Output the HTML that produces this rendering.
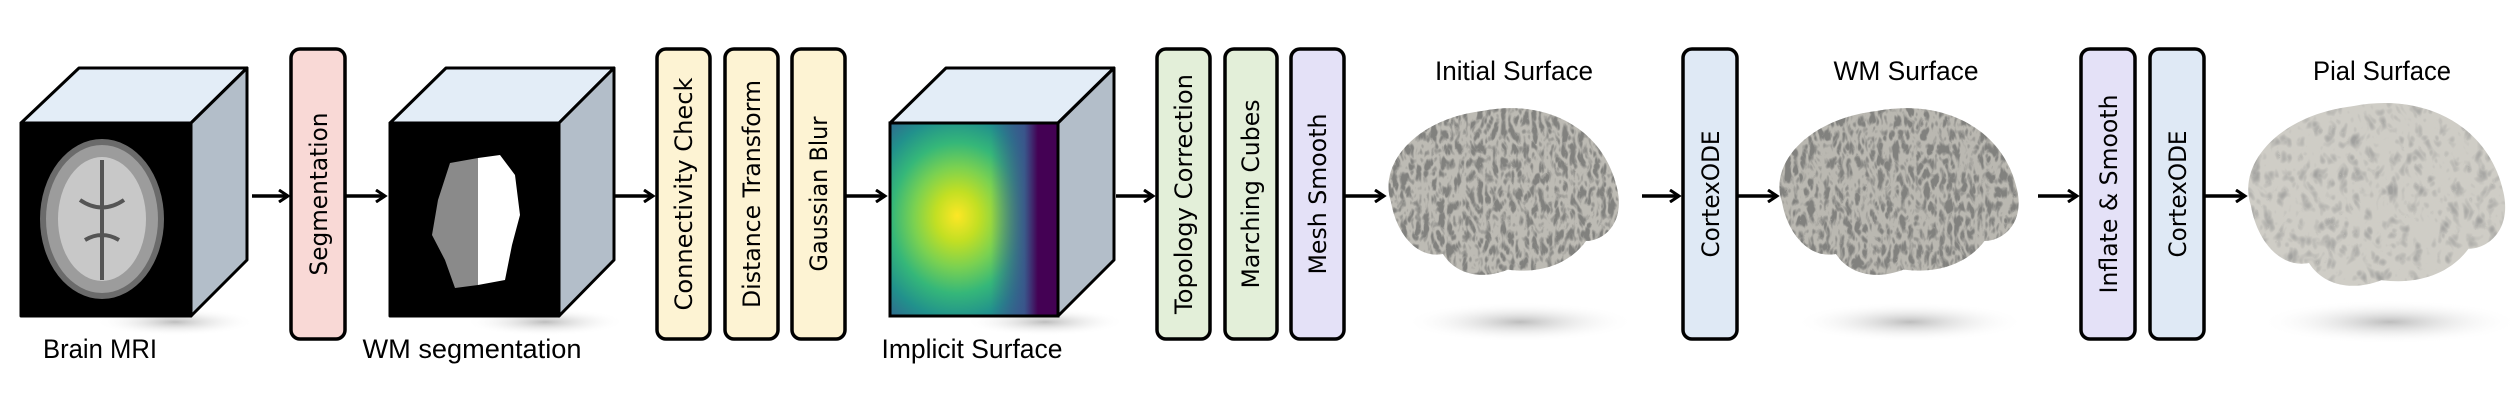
<!DOCTYPE html>
<html><head><meta charset="utf-8"><style>
html,body{margin:0;padding:0;background:#fff;}
svg{display:block;}
.lbl{font-family:"Liberation Sans Narrow","Liberation Sans",sans-serif;font-size:27px;fill:#000;}
.vt{font-family:"DejaVu Sans",sans-serif;font-size:24px;fill:#000;}
</style></head><body>
<svg width="2514" height="404" viewBox="0 0 2514 404" xmlns="http://www.w3.org/2000/svg">
<defs>
  <marker id="ah" markerWidth="14" markerHeight="14" refX="11" refY="7" orient="auto" markerUnits="userSpaceOnUse">
    <path d="M2,1 L11,7 L2,13" fill="none" stroke="#000" stroke-width="3"/>
  </marker>
  <radialGradient id="vir" cx="0.4" cy="0.5" r="0.65" fx="0.4" fy="0.48">
    <stop offset="0" stop-color="#fde725"/>
    <stop offset="0.2" stop-color="#c2df23"/>
    <stop offset="0.4" stop-color="#7ad151"/>
    <stop offset="0.6" stop-color="#35b779"/>
    <stop offset="0.8" stop-color="#21918c"/>
    <stop offset="1" stop-color="#31688e"/>
  </radialGradient>
  <linearGradient id="purp" x1="0" x2="1" y1="0" y2="0">
    <stop offset="0.6" stop-color="#3b528b" stop-opacity="0"/>
    <stop offset="0.8" stop-color="#3b528b" stop-opacity="0.9"/>
    <stop offset="0.88" stop-color="#440154"/>
    <stop offset="1" stop-color="#440154"/>
  </linearGradient>
  <radialGradient id="shad" cx="0.5" cy="0.5" r="0.5">
    <stop offset="0" stop-color="#bdbdbd"/>
    <stop offset="1" stop-color="#fff" stop-opacity="0"/>
  </radialGradient>
  <filter id="wr1" x="0" y="0" width="1" height="1">
    <feTurbulence type="turbulence" baseFrequency="0.13 0.07" numOctaves="2" seed="3"/>
    <feColorMatrix type="matrix" values="0 0 0 0 0.22 0 0 0 0 0.22 0 0 0 0 0.21 3.5 0 0 0 -0.55"/>
  </filter>
  <filter id="wr2" x="0" y="0" width="1" height="1">
    <feTurbulence type="turbulence" baseFrequency="0.08 0.06" numOctaves="2" seed="7"/>
    <feColorMatrix type="matrix" values="0 0 0 0 0.35 0 0 0 0 0.35 0 0 0 0 0.34 2.0 0 0 0 -0.45"/>
  </filter>
  <path id="brainShape" d="M10,40 C5,25 20,8 45,5 C70,0 92,12 97,35 C100,48 92,55 85,55 C80,62 70,68 55,66 C45,70 35,68 30,60 C20,62 12,52 10,40 Z"/>
  <clipPath id="cb1" clipPathUnits="userSpaceOnUse"><use href="#brainShape" transform="translate(1365,98) scale(2.6,2.6)"/></clipPath>
  <clipPath id="cb2" clipPathUnits="userSpaceOnUse"><use href="#brainShape" transform="translate(1755,98) scale(2.7,2.6)"/></clipPath>
  <clipPath id="cb3" clipPathUnits="userSpaceOnUse"><use href="#brainShape" transform="translate(2222,92) scale(2.9,2.85)"/></clipPath>
</defs>

<ellipse cx="175" cy="322" rx="80" ry="14" fill="url(#shad)"/>
<ellipse cx="545" cy="322" rx="80" ry="14" fill="url(#shad)"/>
<ellipse cx="1045" cy="322" rx="80" ry="14" fill="url(#shad)"/>
<ellipse cx="1520" cy="322" rx="115" ry="20" fill="url(#shad)"/>
<ellipse cx="1910" cy="322" rx="115" ry="20" fill="url(#shad)"/>
<ellipse cx="2390" cy="322" rx="130" ry="22" fill="url(#shad)"/>

<g stroke="#000" stroke-width="3" stroke-linejoin="round">
  <polygon points="21,123 79,68 247,68 191,123" fill="#e3edf7"/>
  <polygon points="191,123 247,68 247,260 191,316" fill="#b3bec9"/>
  <rect x="21" y="123" width="170" height="193" fill="#000"/>
</g>
<ellipse cx="102" cy="219" rx="62" ry="80" fill="#6b6b6b"/>
<ellipse cx="102" cy="219" rx="56" ry="74" fill="#9c9c9c"/>
<ellipse cx="102" cy="219" rx="44" ry="62" fill="#c8c8c8"/>
<path d="M102,160 L102,280 M80,200 Q102,215 124,200 M85,240 Q102,230 119,240" stroke="#555" stroke-width="4" fill="none"/>

<g stroke="#000" stroke-width="3" stroke-linejoin="round">
  <polygon points="390,123 446,68 614,68 559,123" fill="#e3edf7"/>
  <polygon points="559,123 614,68 614,260 559,316" fill="#b3bec9"/>
  <rect x="390" y="123" width="169" height="193" fill="#000"/>
</g>
<path d="M450,163 L478,158 L478,285 L455,288 L445,260 L432,235 L438,200 Z" fill="#8a8a8a"/>
<path d="M478,158 L500,155 L515,175 L520,215 L512,245 L505,280 L478,285 Z" fill="#fff"/>

<g stroke="#000" stroke-width="3" stroke-linejoin="round">
  <polygon points="890,123 946,68 1114,68 1058,123" fill="#e3edf7"/>
  <polygon points="1058,123 1114,68 1114,260 1058,316" fill="#b3bec9"/>
</g>
<rect x="890" y="123" width="168" height="193" fill="url(#vir)"/>
<rect x="890" y="123" width="168" height="193" fill="url(#purp)"/>
<rect x="890" y="123" width="168" height="193" fill="none" stroke="#000" stroke-width="3"/>

<g stroke="#000" stroke-width="3.5">
  <rect x="291" y="49" width="54" height="290" rx="9" fill="#f9d9d6"/>
  <rect x="657" y="49" width="53" height="290" rx="9" fill="#fdf3d3"/>
  <rect x="725" y="49" width="53" height="290" rx="9" fill="#fdf3d3"/>
  <rect x="792" y="49" width="53" height="290" rx="9" fill="#fdf3d3"/>
  <rect x="1157" y="49" width="53" height="290" rx="9" fill="#e3efd9"/>
  <rect x="1225" y="49" width="52" height="290" rx="9" fill="#e3efd9"/>
  <rect x="1291" y="49" width="53" height="290" rx="9" fill="#e4e1f7"/>
  <rect x="1683" y="49" width="54" height="290" rx="9" fill="#dfe9f5"/>
  <rect x="2081" y="49" width="54" height="290" rx="9" fill="#e4e1f7"/>
  <rect x="2150" y="49" width="54" height="290" rx="9" fill="#dfe9f5"/>
</g>
<g class="vt" text-anchor="middle">
  <text transform="translate(327,194) rotate(-90)" textLength="163" lengthAdjust="spacingAndGlyphs">Segmentation</text>
  <text transform="translate(692,194) rotate(-90)" textLength="233" lengthAdjust="spacingAndGlyphs">Connectivity Check</text>
  <text transform="translate(760,194) rotate(-90)" textLength="228" lengthAdjust="spacingAndGlyphs">Distance Transform</text>
  <text transform="translate(827,194) rotate(-90)" textLength="155" lengthAdjust="spacingAndGlyphs">Gaussian Blur</text>
  <text transform="translate(1192,194) rotate(-90)" textLength="240" lengthAdjust="spacingAndGlyphs">Topology Correction</text>
  <text transform="translate(1259,194) rotate(-90)" textLength="189" lengthAdjust="spacingAndGlyphs">Marching Cubes</text>
  <text transform="translate(1326,194) rotate(-90)" textLength="161" lengthAdjust="spacingAndGlyphs">Mesh Smooth</text>
  <text transform="translate(1719,194) rotate(-90)" textLength="127" lengthAdjust="spacingAndGlyphs">CortexODE</text>
  <text transform="translate(2117,194) rotate(-90)" textLength="199" lengthAdjust="spacingAndGlyphs">Inflate &amp; Smooth</text>
  <text transform="translate(2186,194) rotate(-90)" textLength="127" lengthAdjust="spacingAndGlyphs">CortexODE</text>
</g>

<g stroke="#000" stroke-width="3.5" marker-end="url(#ah)">
  <line x1="252" y1="196" x2="288" y2="196"/>
  <line x1="345" y1="196" x2="385" y2="196"/>
  <line x1="614" y1="196" x2="653" y2="196"/>
  <line x1="846" y1="196" x2="885" y2="196"/>
  <line x1="1116" y1="196" x2="1153" y2="196"/>
  <line x1="1345" y1="196" x2="1384" y2="196"/>
  <line x1="1642" y1="196" x2="1679" y2="196"/>
  <line x1="1737" y1="196" x2="1777" y2="196"/>
  <line x1="2038" y1="196" x2="2077" y2="196"/>
  <line x1="2204" y1="196" x2="2245" y2="196"/>
</g>

<g clip-path="url(#cb1)">
  <rect x="1360" y="90" width="290" height="200" fill="#bdbbb4"/>
  <rect x="1360" y="90" width="290" height="200" filter="url(#wr1)"/>
</g>
<g clip-path="url(#cb2)">
  <rect x="1750" y="90" width="300" height="200" fill="#bab8b1"/>
  <rect x="1750" y="90" width="300" height="200" filter="url(#wr1)"/>
</g>
<g clip-path="url(#cb3)">
  <rect x="2220" y="85" width="294" height="210" fill="#cfcdc6"/>
  <rect x="2220" y="85" width="294" height="210" filter="url(#wr2)"/>
</g>

<g class="lbl" text-anchor="middle">
  <text x="100" y="358" textLength="114" lengthAdjust="spacingAndGlyphs">Brain MRI</text>
  <text x="472" y="358" textLength="219" lengthAdjust="spacingAndGlyphs">WM segmentation</text>
  <text x="972" y="358" textLength="181" lengthAdjust="spacingAndGlyphs">Implicit Surface</text>
  <text x="1514" y="80" textLength="158" lengthAdjust="spacingAndGlyphs">Initial Surface</text>
  <text x="1906" y="80" textLength="145" lengthAdjust="spacingAndGlyphs">WM Surface</text>
  <text x="2382" y="80" textLength="138" lengthAdjust="spacingAndGlyphs">Pial Surface</text>
</g>
</svg>
</body></html>
